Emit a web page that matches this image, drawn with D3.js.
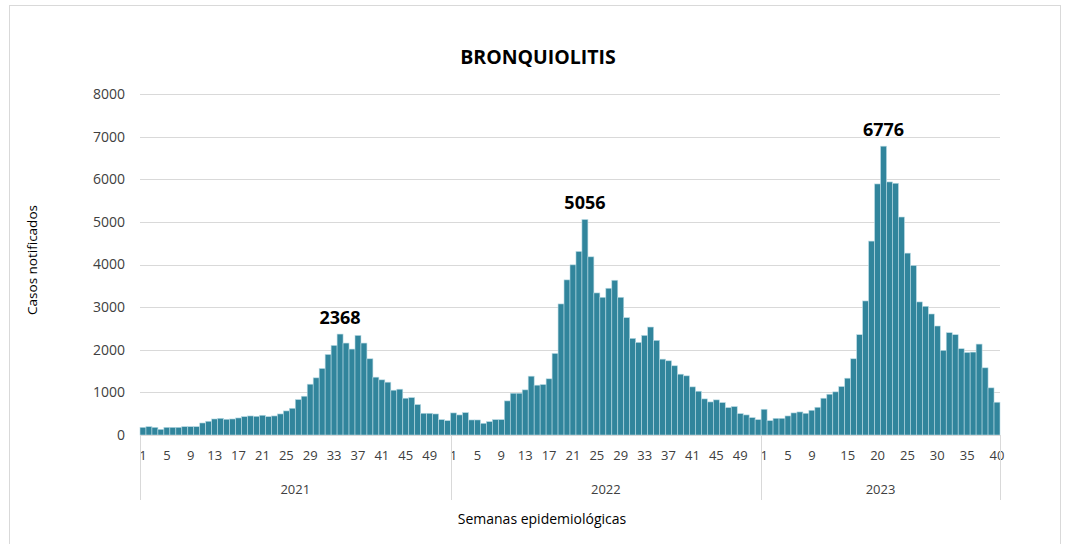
<!DOCTYPE html>
<html>
<head>
<meta charset="utf-8">
<script src="https://cdn.jsdelivr.net/npm/d3@7"></script>
<style>
  body { margin: 0; background: #fff; }
  text { font-family: "Open Sans", "Noto Sans", sans-serif; }
</style>
</head>
<body>
<script>
const width = 1066;
const height = 544;

// casos notificados por semana epidemiologica
const years = [2021, 2022, 2023];
const cases2021 = [180, 196, 180, 133, 180, 180, 180, 196, 196, 196, 282, 322, 376, 392, 369, 376,
  400, 431, 447, 439, 463, 431, 447, 494, 565, 627, 831, 910, 1192, 1341, 1561, 1890, 2102, 2368,
  2157, 2016, 2337, 2157, 1788, 1357, 1294, 1239, 1051, 1075, 863, 878, 714, 510, 510, 494, 361, 337];
const cases2022 = [518, 471, 525, 353, 353, 275, 314, 361, 361, 800, 980, 980, 1059, 1380, 1169, 1184,
  1318, 1914, 3075, 3639, 3992, 4306, 5056, 4180, 3333, 3231, 3443, 3631, 3231, 2753, 2267, 2173, 2337,
  2533, 2220, 1780, 1741, 1624, 1427, 1388, 1129, 1027, 847, 776, 824, 761, 643, 667, 502, 471, 408, 361];
const cases2023 = [604, 337, 392, 392, 447, 518, 541, 510, 580, 651, 863, 957, 1012, 1137, 1333, 1788,
  2353, 3145, 4549, 5890, 6776, 5937, 5906, 5114, 4267, 3976, 3122, 3020, 2839, 2557, 1984, 2400, 2353,
  2024, 1937, 1945, 2133, 1576, 1106, 769];
const tickWeeks2021 = [1, 5, 9, 13, 17, 21, 25, 29, 33, 37, 41, 45, 49];
const tickWeeks2022 = [1, 5, 9, 13, 17, 21, 25, 29, 33, 37, 41, 45, 49];
const tickWeeks2023 = [1, 5, 9, 15, 20, 25, 30, 35, 40];
const yTicks = [0, 1000, 2000, 3000, 4000, 5000, 6000, 7000, 8000];

const series = [cases2021, cases2022, cases2023];
const tickSets = [tickWeeks2021, tickWeeks2022, tickWeeks2023];

const data = [];
series.forEach((vals, i) => {
  vals.forEach((v, j) => data.push({ year: years[i], week: j + 1, value: v, key: years[i] + '-' + (j + 1) }));
});

const svg = d3.select('body').append('svg').attr('width', width).attr('height', height);

// marco exterior
svg.append('rect')
  .attr('x', 9.5).attr('y', 5.5)
  .attr('width', 1051).attr('height', 560)
  .attr('fill', 'none').attr('stroke', '#d9d9d9');

const plotLeft = 140, plotRight = 1000, plotTop = 94, plotBottom = 435;

const x = d3.scaleBand().domain(data.map(d => d.key)).range([plotLeft, plotRight]).padding(0);
const y = d3.scaleLinear().domain([0, 8000]).range([plotBottom, plotTop]);

// grid
svg.append('g')
  .selectAll('line')
  .data(yTicks)
  .enter()
  .append('line')
  .attr('x1', plotLeft).attr('x2', plotRight)
  .attr('y1', d => Math.round(y(d)) + 0.5)
  .attr('y2', d => Math.round(y(d)) + 0.5)
  .attr('stroke', '#d9d9d9')
  .attr('stroke-width', 1);

// eje y
const yAxis = svg.append('g')
  .attr('transform', `translate(${plotLeft - 15},0)`)
  .call(d3.axisLeft(y).tickValues(yTicks).tickFormat(d3.format('d')).tickSize(0).tickPadding(0));
yAxis.select('.domain').remove();
yAxis.selectAll('text')
  .attr('font-family', '"Liberation Sans", Arial, sans-serif')
  .attr('font-size', 14)
  .attr('fill', '#404040');

// barras
svg.append('g')
  .selectAll('rect')
  .data(data)
  .enter()
  .append('rect')
  .attr('x', d => x(d.key))
  .attr('width', x.bandwidth())
  .attr('y', d => y(d.value))
  .attr('height', d => y(0) - y(d.value))
  .attr('fill', '#31859c')
  .attr('stroke', '#b9dbe4')
  .attr('stroke-width', 0.6);

// etiquetas de los picos
years.forEach((yr, i) => {
  const peak = d3.greatest(data.filter(d => d.year === yr), d => d.value);
  svg.append('text')
    .attr('x', x(peak.key) + x.bandwidth() / 2)
    .attr('y', y(peak.value) - 10)
    .attr('text-anchor', 'middle')
    .attr('font-size', 18)
    .attr('font-weight', 'bold')
    .attr('fill', '#000')
    .text(peak.value);
});

// eje x: semanas
const axisG = svg.append('g');
axisG.append('line')
  .attr('x1', plotLeft).attr('x2', plotRight)
  .attr('y1', plotBottom + 0.5).attr('y2', plotBottom + 0.5)
  .attr('stroke', '#d9d9d9');

years.forEach((yr, i) => {
  axisG.selectAll('.wk' + yr)
    .data(tickSets[i])
    .enter()
    .append('text')
    .attr('class', 'wk' + yr)
    .attr('x', w => x(yr + '-' + w) + x.bandwidth() / 2)
    .attr('y', 460)
    .attr('text-anchor', 'middle')
    .attr('font-size', 13)
    .attr('fill', '#404040')
    .text(w => w);

  const first = x(yr + '-1');
  const last = x(yr + '-' + series[i].length) + x.bandwidth();
  axisG.append('text')
    .attr('x', (first + last) / 2)
    .attr('y', 494)
    .attr('text-anchor', 'middle')
    .attr('font-size', 13)
    .attr('fill', '#404040')
    .text(yr);
});

// separadores de años
const seps = [x('2021-1'), x('2022-1'), x('2023-1'), plotRight];
axisG.selectAll('.sep')
  .data(seps)
  .enter()
  .append('line')
  .attr('class', 'sep')
  .attr('x1', d => Math.round(d) + 0.5).attr('x2', d => Math.round(d) + 0.5)
  .attr('y1', plotBottom).attr('y2', 500)
  .attr('stroke', '#d9d9d9');

// títulos
svg.append('text')
  .attr('x', 538).attr('y', 64)
  .attr('text-anchor', 'middle')
  .attr('font-size', 19.5)
  .attr('font-weight', 'bold')
  .attr('fill', '#000')
  .text('BRONQUIOLITIS');

svg.append('text')
  .attr('x', 542).attr('y', 524)
  .attr('text-anchor', 'middle')
  .attr('font-size', 14)
  .attr('fill', '#000')
  .text('Semanas epidemiológicas');

svg.append('text')
  .attr('transform', 'translate(37,260) rotate(-90)')
  .attr('text-anchor', 'middle')
  .attr('font-size', 13.5)
  .attr('fill', '#000')
  .text('Casos notificados');
</script>
</body>
</html>
